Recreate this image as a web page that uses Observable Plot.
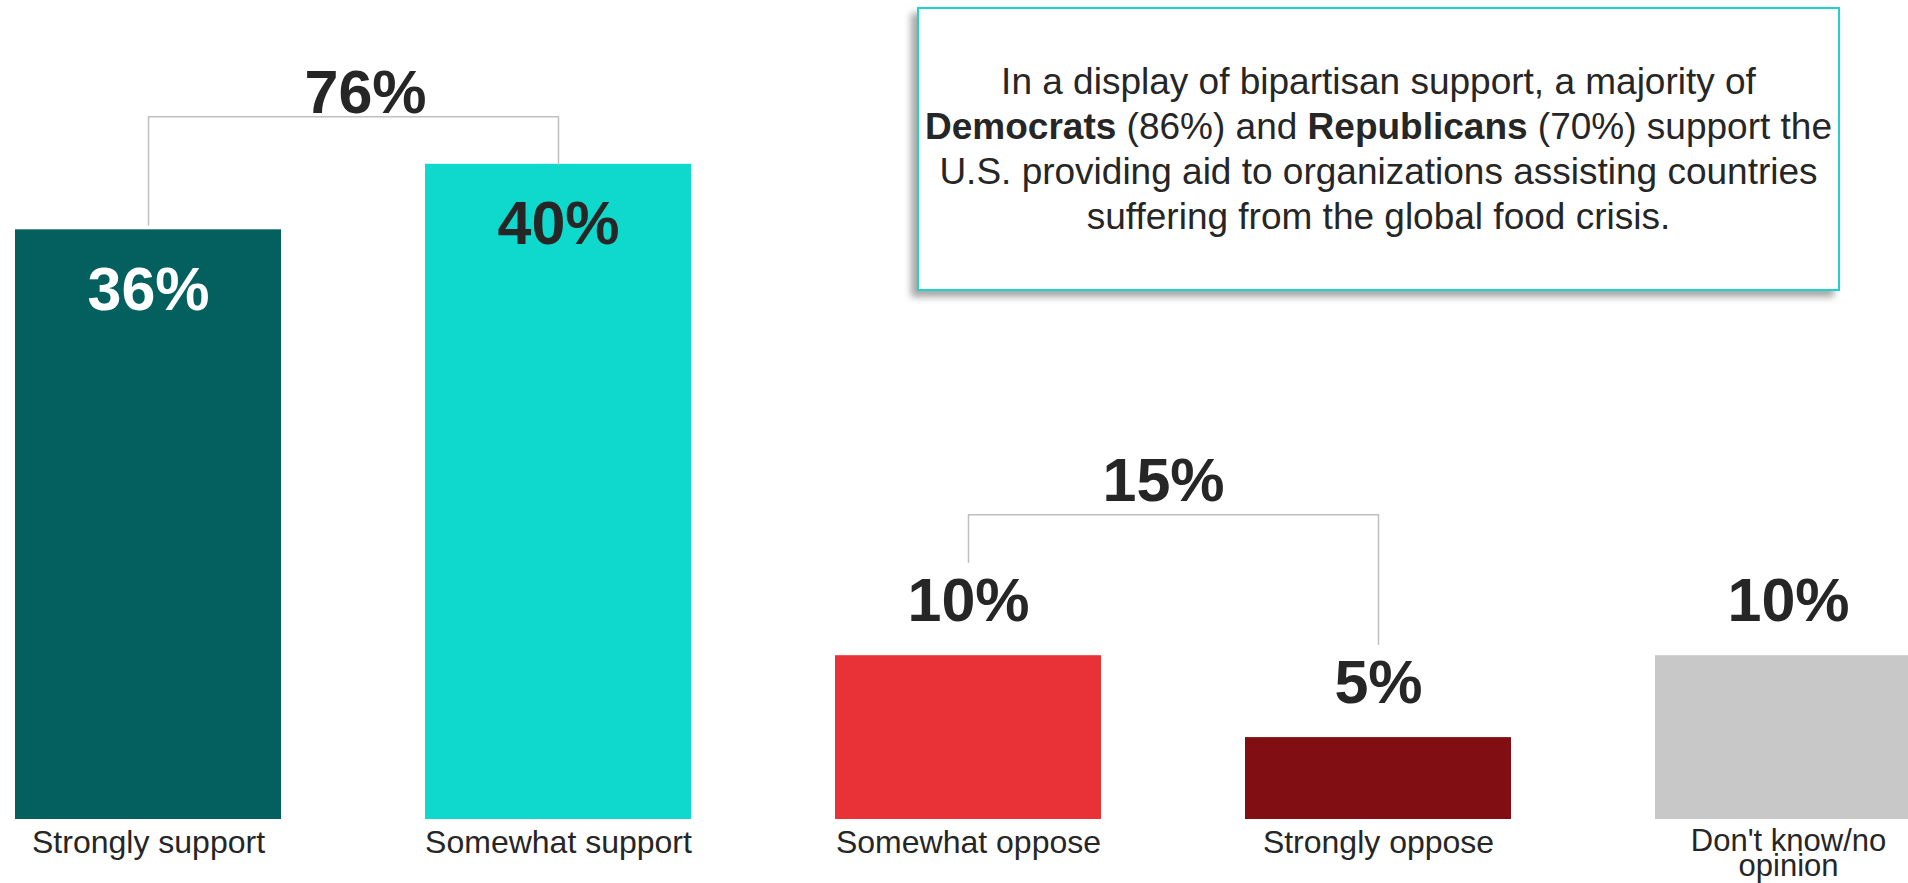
<!DOCTYPE html>
<html>
<head>
<meta charset="utf-8">
<script src="https://cdn.jsdelivr.net/npm/d3@7"></script>
<script src="https://cdn.jsdelivr.net/npm/@observablehq/plot@0.6"></script>
<style>
  html, body { margin: 0; padding: 0; background: #fff; }
  #wrap { position: relative; width: 1908px; height: 883px; overflow: hidden; font-family: "Liberation Sans", Arial, sans-serif; }
  #note {
    position: absolute; left: 917px; top: 7px; width: 919px; height: 280px;
    border: 2px solid #1dd3cc; background: #fff;
    box-shadow: -6px 6px 7px rgba(0,0,0,0.35);
    display: flex; align-items: center; justify-content: center;
    font-size: 37px; line-height: 45px; color: #262626; text-align: center; white-space: nowrap;
  }
  #note b { font-weight: bold; }
</style>
</head>
<body>
<div id="wrap">
  <div id="chart"></div>
  <div id="note"><div>In a display of bipartisan support, a majority of<br><b>Democrats</b> (86%) and <b>Republicans</b> (70%) support the<br>U.S. providing aid to organizations assisting countries<br>suffering from the global food crisis.</div></div>
</div>
<script>
// ---- data ----
const categories = ["Strongly support", "Somewhat support", "Somewhat oppose", "Strongly oppose", "Don't know/no opinion"];
const categoryLabels = ["Strongly support", "Somewhat support", "Somewhat oppose", "Strongly oppose", "Don't know/no\nopinion"];
const values = [36, 40, 10, 5, 10];
const valueLabels = ["36%", "40%", "10%", "5%", "10%"];
const barColors = ["#03605f", "#0fd8cc", "#e83237", "#800e12", "#c8c8c8"];
const labelInside = [true, true, false, false, false];
const insideLabelColors = ["#ffffff", "#262626", "#262626", "#262626", "#262626"];
const groupMembers = [[0, 1], [2, 3]];
const groupTotals = ["76%", "15%"];

// ---- layout constants (styling) ----
const W = 1908, H = 883;
const FONT = "Liberation Sans, Arial, sans-serif";
const bracketRise = [2.9, 8.6];   // level above the tallest member (data units)
const legGap = [[0.3, 0], [5.7, 5.7]];
const totalDy = [-4, -14];
const totalDx = [217, 195];

const rows = categories.map((c, i) => ({
  cat: c, value: values[i], label: valueLabels[i], catLabel: categoryLabels[i],
  inside: labelInside[i], txtColor: insideLabelColors[i]
}));

const bracketPts = [];
const totals = [];
groupMembers.forEach((m, g) => {
  const level = Math.max(...m.map(i => values[i])) + bracketRise[g];
  const [a, b] = m;
  bracketPts.push({g, cat: categories[a], y: values[a] + legGap[g][0]});
  bracketPts.push({g, cat: categories[a], y: level});
  bracketPts.push({g, cat: categories[b], y: level});
  bracketPts.push({g, cat: categories[b], y: values[b] + legGap[g][1]});
  totals.push({g, cat: categories[a], y: level, text: groupTotals[g]});
});

const marks = [
  Plot.barY(rows, {x: "cat", y: "value", fill: "cat"}),
  Plot.line(bracketPts, {x: "cat", y: "y", z: "g", stroke: "#bfbfbf", strokeWidth: 1.5, curve: "linear"}),
  Plot.text(rows.filter(d => d.inside), {x: "cat", y: "value", text: "label", fill: "txtColor", lineAnchor: "bottom", dy: 80, fontSize: 61, fontWeight: "bold", fontFamily: FONT}),
  Plot.text(rows.filter(d => !d.inside), {x: "cat", y: "value", text: "label", fill: "#262626", lineAnchor: "bottom", dy: -35, fontSize: 61, fontWeight: "bold", fontFamily: FONT}),
  Plot.text(rows.filter(d => !d.catLabel.includes("\n")), {x: "cat", frameAnchor: "bottom", text: "catLabel", fill: "#262626", lineAnchor: "bottom", dy: 33, fontSize: 32, fontFamily: FONT}),
  Plot.text(rows.filter(d => d.catLabel.includes("\n")), {x: "cat", frameAnchor: "bottom", text: "catLabel", fill: "#262626", lineAnchor: "bottom", dy: 56, lineHeight: 0.8, fontSize: 31, fontFamily: FONT})
];
totals.forEach((t, g) => {
  marks.push(Plot.text([t], {x: "cat", y: "y", text: "text", fill: "#262626", lineAnchor: "bottom", dx: totalDx[g], dy: totalDy[g], fontSize: 61, fontWeight: "bold", fontFamily: FONT}));
});

const chart = Plot.plot({
  width: W, height: H,
  marginTop: 0, marginBottom: 64, marginLeft: 0, marginRight: 0,
  x: {domain: categories, range: [14, 1922], paddingInner: 0.3506, paddingOuter: 0, align: 0.5, axis: null},
  y: {domain: [0, 50], axis: null},
  color: {domain: categories, range: barColors},
  style: {fontFamily: FONT, background: "transparent"},
  marks
});
document.getElementById("chart").appendChild(chart);
</script>
</body>
</html>
